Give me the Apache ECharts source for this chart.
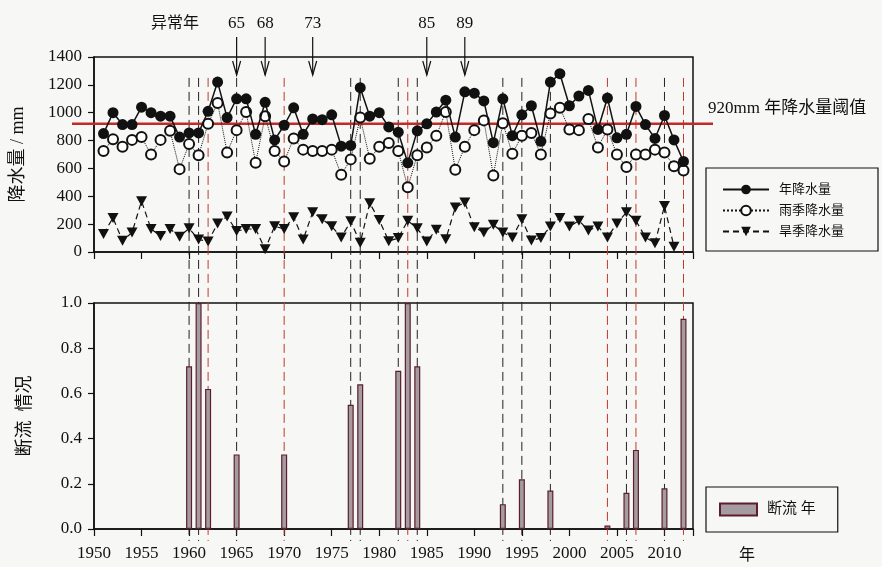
<!DOCTYPE html>
<html>
<head>
<meta charset="utf-8">
<script src="https://cdn.jsdelivr.net/npm/echarts@6/dist/echarts.min.js"></script>
<style>
  html, body { margin: 0; padding: 0; background: #f7f7f5; }
  #main { width: 882px; height: 567px; }
</style>
</head>
<body>
<div id="main"></div>
<script>
// 年份 1951-2012
var startYear = 1951;
var years = [];
for (var y = startYear; y <= 2012; y++) years.push(y);

// 年降水量 (mm)
var annualRain = [850, 1000, 915, 915, 1040, 1000, 975, 975, 825, 855, 855, 1010,
  1220, 965, 1100, 1100, 845, 1075, 805, 910, 1035, 845, 955, 950, 985, 760, 765,
  1180, 975, 1000, 898, 860, 640, 870, 920, 1005, 1090, 825, 1150, 1140, 1085, 785,
  1100, 835, 985, 1050, 795, 1220, 1280, 1050, 1120, 1160, 880, 1105, 820, 845, 1045,
  915, 815, 980, 805, 650];
// 雨季降水量 (mm)
var wetRain = [725, 810, 755, 805, 825, 700, 805, 870, 595, 775, 695, 920,
  1070, 715, 875, 1005, 640, 975, 725, 650, 815, 735, 725, 725, 735, 555, 665,
  965, 670, 755, 782, 725, 465, 695, 750, 835, 1005, 590, 755, 875, 945, 550,
  925, 705, 835, 855, 700, 995, 1035, 880, 875, 955, 750, 880, 700, 610, 700,
  700, 735, 715, 615, 585];
// 旱季降水量 (mm)
var dryRain = [130, 245, 80, 140, 365, 165, 115, 165, 110, 170, 90, 75,
  205, 255, 150, 165, 165, 20, 185, 165, 250, 90, 285, 235, 185, 105, 220,
  67, 350, 230, 78, 100, 225, 170, 75, 160, 92, 320, 355, 178, 140, 195,
  140, 105, 235, 82, 100, 183, 245, 183, 225, 155, 183, 105, 205, 285, 225,
  105, 63, 330, 38, null];

// 断流年及断流情况
var cutoffYears = [1960, 1961, 1962, 1965, 1970, 1977, 1978, 1982, 1983, 1984,
  1993, 1995, 1998, 2004, 2006, 2007, 2010, 2012];
var cutoffValues = [0.72, 1.0, 0.62, 0.33, 0.33, 0.55, 0.64, 0.70, 1.0, 0.72,
  0.11, 0.22, 0.17, 0.015, 0.16, 0.35, 0.18, 0.93];
// 红色虚线标注的断流年
var redMarkedYears = [1962, 1970, 1983, 2004, 2007, 2012];

// 异常年
var anomalyYears = [1965, 1968, 1973, 1985, 1989];
var threshold = 920;

var serifFont = '"Liberation Serif", "Noto Sans CJK SC", serif';
var ink = '#111';

function pairs(xs, vs) {
  var out = [];
  for (var i = 0; i < xs.length; i++) out.push([xs[i], vs[i]]);
  return out;
}

var chart = echarts.init(document.getElementById('main'));

var xAxisBase = {
  type: 'value',
  min: 1950,
  max: 2013,
  interval: 5,
  axisLine: { show: true, lineStyle: { color: ink, width: 1.5 } },
  axisTick: { show: true, inside: false, length: 7, lineStyle: { color: ink, width: 1.2 } },
  splitLine: { show: false }
};

var option = {
  backgroundColor: '#f7f7f5',
  animation: false,
  textStyle: { fontFamily: serifFont, color: ink },
  grid: [
    { left: 94, right: 189, top: 57, height: 195, outerBoundsMode: 'none', containLabel: false,
      show: true, borderColor: ink, borderWidth: 1.5, backgroundColor: 'transparent' },
    { left: 94, right: 189, top: 303, height: 226, outerBoundsMode: 'none', containLabel: false,
      show: true, borderColor: ink, borderWidth: 1.5, backgroundColor: 'transparent' }
  ],
  xAxis: [
    Object.assign({}, xAxisBase, { gridIndex: 0, axisLabel: { show: false } }),
    Object.assign({}, xAxisBase, {
      gridIndex: 1,
      name: '年',
      nameLocation: 'end',
      nameGap: 46,
      nameTextStyle: { fontSize: 16, fontFamily: serifFont, color: ink, verticalAlign: 'top', padding: [19, 0, 0, 0] },
      axisLabel: {
        margin: 16, fontSize: 17, color: ink, fontFamily: serifFont,
        formatter: function (v) { return v % 5 === 0 ? String(v) : ''; }
      }
    })
  ],
  yAxis: [
    {
      type: 'value', gridIndex: 0, min: 0, max: 1400, interval: 200,
      name: '降水量 / mm', nameLocation: 'middle', nameGap: 67, nameRotate: 90,
      nameTextStyle: { fontSize: 18, fontFamily: serifFont, color: ink },
      axisLine: { show: true, lineStyle: { color: ink, width: 1.5 } },
      axisTick: { show: true, length: 6, lineStyle: { color: ink, width: 1.2 } },
      axisLabel: { fontSize: 17, color: ink, fontFamily: serifFont, margin: 12,
        formatter: function (v) { return String(v); } },
      splitLine: { show: false }
    },
    {
      type: 'value', gridIndex: 1, min: 0, max: 1, interval: 0.2,
      name: '断流  情况', nameLocation: 'middle', nameGap: 60, nameRotate: 90,
      nameTextStyle: { fontSize: 18, fontFamily: serifFont, color: ink },
      axisLine: { show: true, lineStyle: { color: ink, width: 1.5 } },
      axisTick: { show: true, length: 6, lineStyle: { color: ink, width: 1.2 } },
      axisLabel: { fontSize: 17, color: ink, fontFamily: serifFont, margin: 12,
        formatter: function (v) { return v.toFixed(1); } },
      splitLine: { show: false }
    }
  ],
  legend: [
    {
      data: ['年降水量', '雨季降水量', '旱季降水量'],
      orient: 'vertical', left: 706, top: 168,
      itemWidth: 46, itemHeight: 12, itemGap: 8,
      padding: [15, 34, 13, 16],
      borderColor: ink, borderWidth: 1.2,
      textStyle: { fontSize: 13, color: ink, fontFamily: serifFont, padding: [0, 0, 0, 5] }
    },
    {
      data: ['断流 年'],
      left: 706, top: 487,
      icon: 'rect', itemWidth: 37, itemHeight: 12,
      padding: [15, 22, 15, 13],
      borderColor: ink, borderWidth: 1.2,
      textStyle: { fontSize: 15, color: ink, fontFamily: serifFont, padding: [0, 0, 0, 5] }
    }
  ],
  series: [
    {
      name: '雨季降水量', type: 'line', xAxisIndex: 0, yAxisIndex: 0, z: 3,
      data: pairs(years, wetRain),
      symbol: 'emptyCircle', symbolSize: 10,
      itemStyle: { color: ink, borderWidth: 1.5 },
      lineStyle: { color: ink, width: 1, type: 'dotted' }
    },
    {
      name: '旱季降水量', type: 'line', xAxisIndex: 0, yAxisIndex: 0, z: 3,
      data: pairs(years, dryRain),
      symbol: 'path://M0,0 L10,0 L5,9 Z', symbolSize: [11, 10],
      itemStyle: { color: ink },
      lineStyle: { color: ink, width: 1.2, type: [6, 4] }
    },
    {
      name: '年降水量', type: 'line', xAxisIndex: 0, yAxisIndex: 0, z: 4,
      data: pairs(years, annualRain),
      symbol: 'circle', symbolSize: 11,
      itemStyle: { color: ink },
      lineStyle: { color: ink, width: 1.5 }
    },
    {
      name: '断流 年', type: 'bar', xAxisIndex: 1, yAxisIndex: 1, z: 3,
      data: pairs(cutoffYears, cutoffValues),
      barWidth: 6,
      itemStyle: { color: '#a59ca2', borderColor: '#5c1e2e', borderWidth: 1.2 }
    }
  ]
};

chart.setOption(option);

// 注释: 断流年虚线、阈值线、异常年箭头
function px(year, value, grid) {
  return chart.convertToPixel({ xAxisIndex: grid, yAxisIndex: grid }, [year, value]);
}

var elements = [];
cutoffYears.forEach(function (yr) {
  var top = px(yr, 1250, 0);
  var bottom = px(yr, 0, 1);
  var red = redMarkedYears.indexOf(yr) >= 0;
  elements.push({
    type: 'line', z: 1,
    shape: { x1: top[0], y1: top[1], x2: bottom[0], y2: bottom[1] + 12 },
    style: { stroke: red ? '#c0392b' : '#222', lineWidth: 1, lineDash: [9, 5] }
  });
});

var tl = px(1950, threshold, 0);
var tr = px(2013, threshold, 0);
elements.push({
  type: 'line', z: 2,
  shape: { x1: tl[0] - 22, y1: tl[1], x2: tr[0] + 20, y2: tr[1] },
  style: { stroke: '#c22a2a', lineWidth: 2.5 }
});
elements.push({
  type: 'text', z: 5,
  style: { text: threshold + 'mm 年降水量阈值', x: tr[0] + 15, y: tr[1] - 15,
    verticalAlign: 'middle', font: '17px ' + serifFont, fill: ink }
});

anomalyYears.forEach(function (yr) {
  var p = px(yr, 1400, 0);
  var x = p[0];
  elements.push({ type: 'line', z: 5, shape: { x1: x, y1: 37, x2: x, y2: 75 },
    style: { stroke: ink, lineWidth: 1.2 } });
  elements.push({ type: 'polyline', z: 5, shape: { points: [[x - 4, 61], [x, 75], [x + 4, 61]] },
    style: { stroke: ink, lineWidth: 1.2, fill: null } });
  elements.push({ type: 'text', z: 5,
    style: { text: String(yr).slice(2), x: x, y: 24, align: 'center', verticalAlign: 'middle',
      font: '17px ' + serifFont, fill: ink } });
});
elements.push({ type: 'text', z: 5,
  style: { text: '异常年', x: 175, y: 24, align: 'center', verticalAlign: 'middle',
    font: '16px ' + serifFont, fill: ink } });

chart.setOption({ graphic: { elements: elements } });
</script>
</body>
</html>
